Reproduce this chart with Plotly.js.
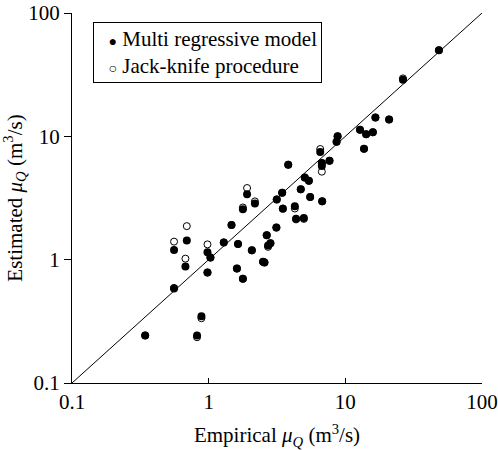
<!DOCTYPE html>
<html>
<head>
<meta charset="utf-8">
<script src="https://cdn.plot.ly/plotly-3.0.1.min.js"></script>
<style>html,body{margin:0;padding:0;background:#fff;}#chart{width:498px;height:450px;}</style>
</head>
<body>
<div id="chart"></div>
<script>
// Multi regressive model (filled)
const multiX = [0.343,0.558,0.558,0.676,0.692,0.822,0.885,0.98,0.98,1.03,1.29,1.47,1.61,1.64,1.78,1.78,1.91,2.07,2.18,2.50,2.56,2.66,2.72,2.83,3.13,3.15,3.45,3.49,3.82,4.27,4.36,4.72,4.97,5.05,5.41,5.53,6.55,6.73,6.73,6.77,7.66,8.63,8.78,12.8,13.7,14.2,15.9,16.6,20.9,26.4,48.4];
const multiY = [0.243,0.584,1.20,0.88,1.43,0.243,0.347,1.15,0.787,1.04,1.38,1.91,0.847,1.34,0.70,2.56,3.39,1.19,2.86,0.96,0.95,1.58,1.30,1.36,1.82,3.08,3.49,2.59,5.89,2.71,2.15,3.72,2.18,4.63,4.36,3.22,7.45,6.07,5.74,2.97,6.34,9.04,10.0,11.3,7.92,10.4,10.8,14.2,13.7,28.7,49.9];
// Jack-knife procedure (open)
const jackX = [0.343,0.558,0.558,0.676,0.692,0.822,0.885,0.98,0.98,1.03,1.29,1.47,1.61,1.64,1.78,1.78,1.91,2.07,2.18,2.50,2.56,2.66,2.72,2.83,3.13,3.15,3.45,3.49,3.82,4.27,4.36,4.72,4.97,5.05,5.41,5.53,6.55,6.73,6.73,6.77,7.66,8.63,8.78,12.8,13.7,14.2,15.9,16.6,20.9,26.4,48.4];
const jackY = [0.243,0.59,1.40,1.02,1.87,0.235,0.335,1.33,0.787,1.04,1.38,1.91,0.847,1.34,0.70,2.65,3.81,1.19,2.97,0.96,0.95,1.58,1.27,1.36,1.82,3.08,3.49,2.60,5.89,2.60,2.12,3.72,2.14,4.63,4.36,3.22,7.89,6.07,5.17,2.97,6.34,9.04,10.0,11.3,7.92,10.4,10.8,14.2,13.7,29.5,49.9];
// 1:1 line
const diagonal = [0.1, 100];
const tickVals = [0.1, 1, 10, 100];
const tickText = ['0.1', '1', '10', '100'];
const seriesNames = ['Multi regressive model', 'Jack-knife procedure'];

const FONT = 'Liberation Serif';

const traces = [
  {x: diagonal, y: diagonal, mode: 'lines', line: {color: '#000', width: 1}, showlegend: false, hoverinfo: 'skip'},
  {x: jackX, y: jackY, mode: 'markers', name: seriesNames[1], showlegend: false,
   marker: {symbol: 'circle', size: 7, color: '#fff', line: {color: '#000', width: 1}}},
  {x: multiX, y: multiY, mode: 'markers', name: seriesNames[0], showlegend: false,
   marker: {symbol: 'circle', size: 8, color: '#000', line: {color: '#000', width: 0}}}
];

const legendText =
  '&nbsp;&nbsp;<span style="font-size:14px">●</span>&nbsp;' + seriesNames[0] + '<br>' +
  '&nbsp;&nbsp;<span style="font-size:14px">○</span>&nbsp;' + seriesNames[1];

const layout = {
  width: 498, height: 450,
  margin: {l: 72, r: 16, t: 13, b: 67},
  paper_bgcolor: '#fff', plot_bgcolor: '#fff',
  font: {family: FONT, size: 21, color: '#000'},
  showlegend: false,
  annotations: [{
    xref: 'paper', yref: 'paper', x: 0.0512, y: 0.975, xanchor: 'left', yanchor: 'top',
    align: 'left', showarrow: false, text: legendText,
    bordercolor: '#000', borderwidth: 1, borderpad: 4, bgcolor: '#fff',
    font: {family: FONT, size: 21, color: '#000'}
  }],
  xaxis: {type: 'log', range: [-1, 2], tickvals: tickVals, ticktext: tickText,
          showgrid: false, zeroline: false, showline: true, linecolor: '#000', linewidth: 1,
          ticks: 'inside', ticklen: 5, tickcolor: '#000',
          tickfont: {family: FONT, size: 21, color: '#000'},
          title: {text: 'Empirical <i>μ</i><sub><i>Q</i></sub> (m<sup>3</sup>/s)', font: {family: FONT, size: 21, color: '#000'}, standoff: 14}},
  yaxis: {type: 'log', range: [-1, 2], tickvals: tickVals, ticktext: tickText,
          showgrid: false, zeroline: false, showline: true, linecolor: '#000', linewidth: 1,
          ticks: 'outside', ticklen: 7, tickcolor: '#000',
          tickfont: {family: FONT, size: 21, color: '#000'},
          title: {text: 'Estimated <i>μ</i><sub><i>Q</i></sub> (m<sup>3</sup>/s)', font: {family: FONT, size: 21, color: '#000'}, standoff: 3}}
};

Plotly.newPlot('chart', traces, layout, {displayModeBar: false, staticPlot: true});
</script>
</body>
</html>
